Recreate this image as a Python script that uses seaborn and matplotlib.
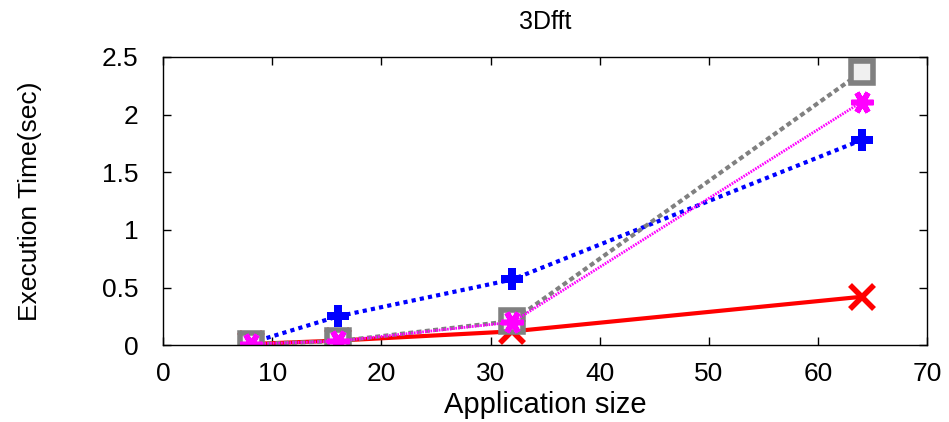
import matplotlib
matplotlib.use("Agg")
import matplotlib.pyplot as plt
import seaborn as sns
import pandas as pd

sizes = [8, 16, 32, 64]
blue_vals = [0.02, 0.25, 0.57, 1.78]
red_vals = [0.01, 0.04, 0.12, 0.42]
gray_vals = [0.01, 0.035, 0.21, 2.37]
magenta_vals = [0.01, 0.035, 0.20, 2.11]

sns.set_theme(style="white")
plt.rcParams['font.family'] = ['Liberation Sans', 'DejaVu Sans']
plt.rcParams['text.color'] = 'black'
plt.rcParams['axes.labelcolor'] = 'black'

fig = plt.figure(figsize=(9.49, 4.22), dpi=100)
ax = fig.add_axes([0.172, 0.182, 0.805, 0.683])

series = [
    (blue_vals, "#0000ff", (0, (1, 1)), "P", 3.0,
     dict(markersize=16, markeredgewidth=0)),
    (red_vals, "#ff0000", "-", "x", 3.0,
     dict(markersize=17, markeredgewidth=4, markeredgecolor="#ff0000")),
    (gray_vals, "#808080", (0, (1.2, 0.8)), "s", 3.0,
     dict(markersize=16, markerfacecolor="#f0f0f0", markeredgecolor="#808080", markeredgewidth=4)),
    (magenta_vals, "#ff00ff", (0, (0.6, 0.4)), (6, 2, 90), 2.0,
     dict(markersize=16, markeredgewidth=4, markeredgecolor="#ff00ff")),
]
for vals, col, ls, mk, lw, kw in series:
    df = pd.DataFrame({"x": sizes, "y": vals})
    sns.lineplot(data=df, x="x", y="y", ax=ax, color=col, linestyle=ls, linewidth=lw,
                 marker=mk, **kw)

ax.set_xlim(0, 70)
ax.set_ylim(0, 2.5)
ax.set_xticks(range(0, 71, 10))
ax.set_yticks([0, 0.5, 1, 1.5, 2, 2.5])
ax.set_yticklabels(["0", "0.5", "1", "1.5", "2", "2.5"])
ax.tick_params(direction="in", length=6, width=1, labelsize=19, top=True, right=True,
               bottom=True, left=True, colors="black")
ax.tick_params(axis="y", pad=18)
ax.tick_params(axis="x", pad=12)
for s in ax.spines.values():
    s.set_color("black")
    s.set_linewidth(1)
ax.set_xlabel("Application size", fontsize=21, labelpad=4, color="black")
ax.set_ylabel("Execution Time(sec)", fontsize=19, color="black", va="center")
ax.yaxis.set_label_coords(-0.174, 0.5)
ax.set_title("3Dfft", fontsize=18, pad=20, color="black")
ax.grid(False)

fig.savefig("out.png", dpi=100)
